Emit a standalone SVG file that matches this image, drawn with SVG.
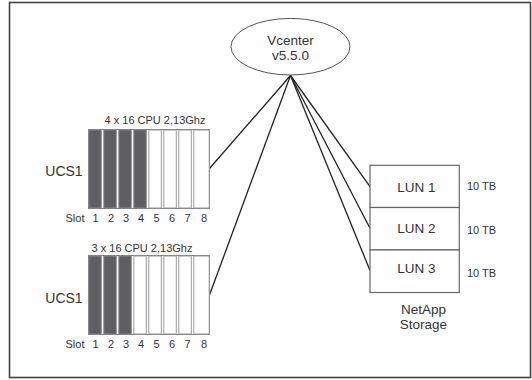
<svg xmlns="http://www.w3.org/2000/svg" width="532" height="380" viewBox="0 0 532 380">
<style>
text{font-family:"Liberation Sans",Arial,sans-serif;fill:#333}
.frame{fill:#fff;stroke:#444;stroke-width:1.6}
.rack{fill:none;stroke:#7a7a7a;stroke-width:1}
.on{fill:#5f5f63;stroke:#8a8a8a;stroke-width:1}
.off{fill:#fff;stroke:#9a9a9a;stroke-width:1}
.conn{stroke:#222;stroke-width:1.3;fill:none}
.box{fill:#fff;stroke:#666;stroke-width:1.2}
.t11{font-size:11px}
.t13{font-size:13.5px}
</style>
<rect class="frame" x="9.5" y="2.5" width="521" height="375"/>
<g id="connectors">
<line class="conn" x1="290.5" y1="75.5" x2="209.5" y2="168.5"/>
<line class="conn" x1="290.5" y1="75.5" x2="209.5" y2="295"/>
<line class="conn" x1="290.5" y1="75.5" x2="370" y2="186.7"/>
<line class="conn" x1="290.5" y1="75.5" x2="370" y2="228.3"/>
<line class="conn" x1="290.5" y1="75.5" x2="370" y2="270.5"/>
</g>
<g id="vcenter">
<ellipse cx="290.5" cy="46.7" rx="59.5" ry="28.3" fill="#fff" stroke="#555" stroke-width="1"/>
<text class="t13" x="290.5" y="45" text-anchor="middle">Vcenter</text>
<text class="t13" x="290.5" y="59.5" text-anchor="middle">v5.5.0</text>
</g>
<g id="ucs1-top">
<text class="t11" x="155" y="123.5" text-anchor="middle">4 x 16 CPU 2,13Ghz</text>
<text x="64" y="176" text-anchor="middle" style="font-size:14px">UCS1</text>
<rect class="rack" x="88.5" y="129.5" width="121" height="79"/>
<rect class="on" x="88.8" y="130" width="12.5" height="78"/>
<rect class="on" x="103.8" y="130" width="12.5" height="78"/>
<rect class="on" x="118.8" y="130" width="12.5" height="78"/>
<rect class="on" x="133.8" y="130" width="12.5" height="78"/>
<rect class="off" x="148.8" y="130" width="12.5" height="78"/>
<rect class="off" x="163.8" y="130" width="12.5" height="78"/>
<rect class="off" x="178.8" y="130" width="12.5" height="78"/>
<rect class="off" x="193.8" y="130" width="15.4" height="78"/>
<text class="t11" y="222"><tspan x="84.5" text-anchor="end">Slot</tspan></text>
<text class="t11" y="222" text-anchor="middle"><tspan x="95.5">1</tspan><tspan x="111">2</tspan><tspan x="126">3</tspan><tspan x="141">4</tspan><tspan x="156.5">5</tspan><tspan x="172">6</tspan><tspan x="187.5">7</tspan><tspan x="204">8</tspan></text>
</g>
<g id="ucs1-bottom">
<text class="t11" x="142" y="251.5" text-anchor="middle">3 x 16 CPU 2,13Ghz</text>
<text x="64" y="303" text-anchor="middle" style="font-size:14px">UCS1</text>
<rect class="rack" x="88.5" y="255.5" width="121" height="79"/>
<rect class="on" x="88.8" y="256" width="12.5" height="78"/>
<rect class="on" x="103.8" y="256" width="12.5" height="78"/>
<rect class="on" x="118.8" y="256" width="12.5" height="78"/>
<rect class="off" x="133.8" y="256" width="12.5" height="78"/>
<rect class="off" x="148.8" y="256" width="12.5" height="78"/>
<rect class="off" x="163.8" y="256" width="12.5" height="78"/>
<rect class="off" x="178.8" y="256" width="12.5" height="78"/>
<rect class="off" x="193.8" y="256" width="15.4" height="78"/>
<text class="t11" y="347.5"><tspan x="84.5" text-anchor="end">Slot</tspan></text>
<text class="t11" y="347.5" text-anchor="middle"><tspan x="95.5">1</tspan><tspan x="111">2</tspan><tspan x="126">3</tspan><tspan x="141">4</tspan><tspan x="156.5">5</tspan><tspan x="172">6</tspan><tspan x="187.5">7</tspan><tspan x="204">8</tspan></text>
</g>
<g id="lun1">
<rect class="box" x="370" y="165.3" width="89.3" height="42.2"/>
<text class="t13" x="416.5" y="191.5" text-anchor="middle">LUN 1</text>
<text class="t11" x="481.5" y="189.5" text-anchor="middle">10 TB</text>
</g>
<g id="lun2">
<rect class="box" x="370" y="207.5" width="89.3" height="42.5"/>
<text class="t13" x="416.5" y="233.3" text-anchor="middle">LUN 2</text>
<text class="t11" x="481.5" y="234.3" text-anchor="middle">10 TB</text>
</g>
<g id="lun3">
<rect class="box" x="370" y="250" width="89.3" height="42.5"/>
<text class="t13" x="416.5" y="272.7" text-anchor="middle">LUN 3</text>
<text class="t11" x="481.5" y="277.3" text-anchor="middle">10 TB</text>
</g>
<g id="netapp">
<text class="t13" x="423.5" y="314" text-anchor="middle">NetApp</text>
<text class="t13" x="423.5" y="328.5" text-anchor="middle">Storage</text>
</g>
</svg>
